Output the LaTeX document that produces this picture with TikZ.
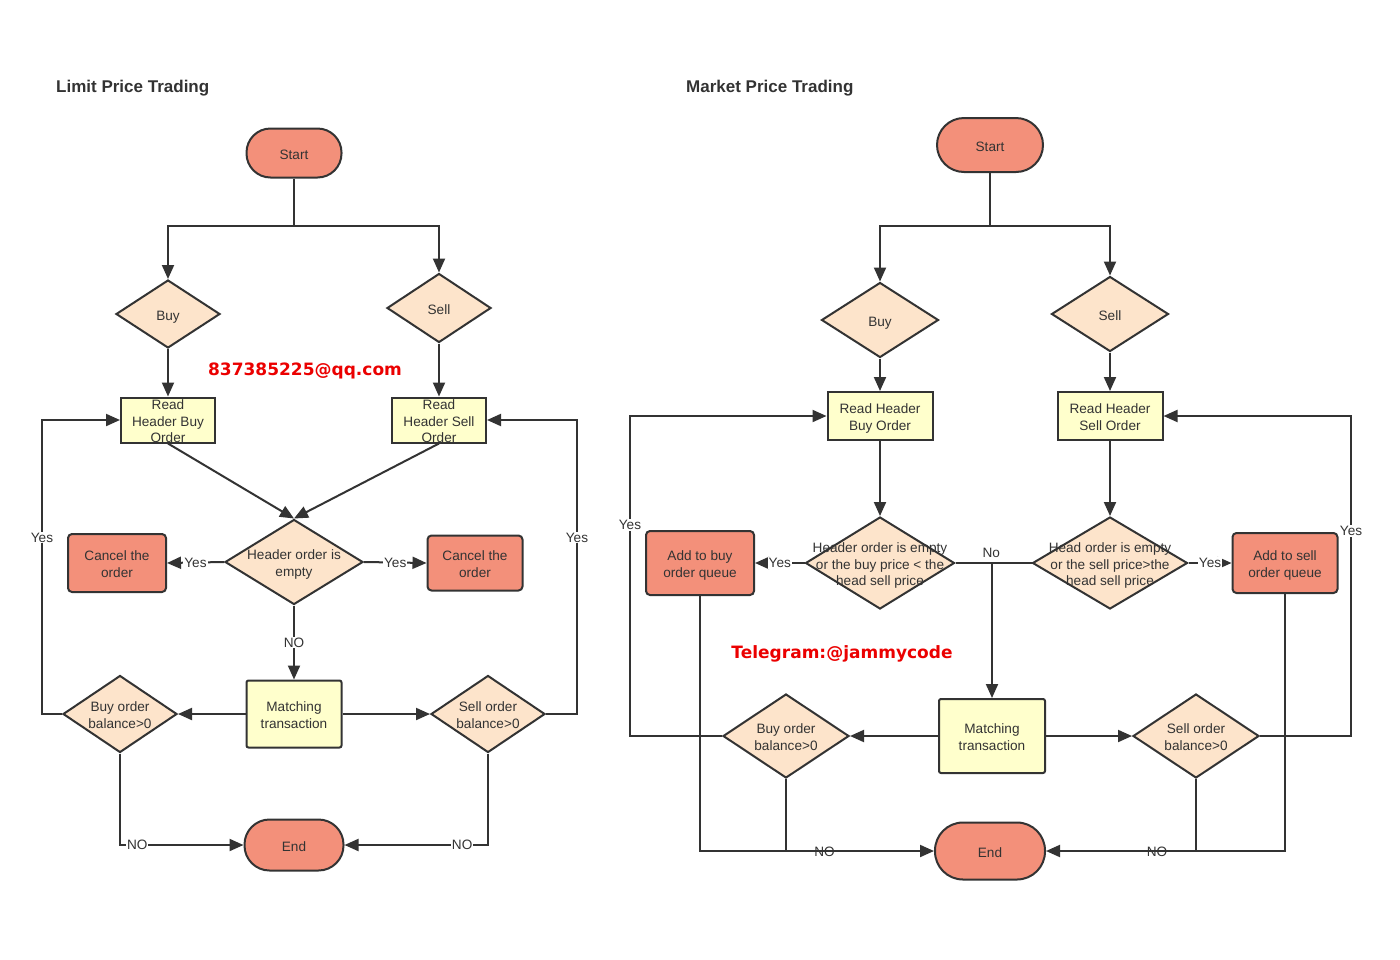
\documentclass[tikz,border=0pt]{standalone}
\usepackage{fontspec}
\setmainfont{Liberation Sans}
\newfontfamily\vfont{DejaVu Sans}
\usetikzlibrary{shapes.geometric,arrows.meta}
\definecolor{lc}{RGB}{51,51,51}
\definecolor{salmon}{RGB}{243,144,122}
\definecolor{peach}{RGB}{253,228,203}
\definecolor{yel}{RGB}{255,255,204}
\definecolor{wred}{RGB}{235,0,0}
\newcommand{\ctext}[1]{\smash{\makebox[0pt]{\raisebox{-6.5pt}{\begin{tabular}{@{}c@{}}#1\end{tabular}}}}}
\begin{document}
\begin{tikzpicture}[x=1pt,y=-1pt,
  every node/.style={font=\fontsize{13.6}{16.6}\selectfont, text=lc},
  base/.style={draw=lc, line width=2pt, inner sep=0pt},
  term/.style={base, rectangle, fill=salmon},
  proc/.style={base, rectangle, fill=yel, rounded corners=2pt},
  act/.style={base, rectangle, fill=salmon, rounded corners=4pt},
  dia/.style={base, diamond, fill=peach},
  line/.style={draw=lc, line width=2pt},
  arr/.style={line, -{Triangle[length=14pt,width=12pt]}},
  lbl/.style={fill=white, inner sep=1pt, font=\fontsize{13.6}{15}\selectfont},
  nlbl/.style={inner sep=1pt, font=\fontsize{13.6}{15}\selectfont},
  ttl/.style={anchor=west, inner sep=0pt, font=\fontsize{17}{20}\selectfont\bfseries},
  wm/.style={font=\vfont\bfseries\fontsize{17}{20}\selectfont, text=wred}]
\fill[white] (0,0) rectangle (1400,959);
\useasboundingbox (0,0) rectangle (1400,959);

% ---------------- Limit Price Trading ----------------
\node[ttl] (t1) at (56,88) {Limit Price Trading};
\node[term, rounded corners=24pt, minimum width=95pt, minimum height=49pt] (s1) at (294,153) {\ctext{Start}};
\node[dia, minimum width=104pt, minimum height=68pt] (buy1) at (168,314) {\ctext{Buy}};
\node[dia, minimum width=104pt, minimum height=69pt] (sell1) at (439,308) {\ctext{Sell}};
\node[wm] (w1) at (305,371) {837385225@qq.com};
\node[proc, rounded corners=0pt, minimum width=94pt, minimum height=45pt] (rb1) at (168,420) {\ctext{Read\\Header Buy\\Order}};
\node[proc, rounded corners=0pt, minimum width=94pt, minimum height=45pt] (rs1) at (439,420) {\ctext{Read\\Header Sell\\Order}};
\node[dia, minimum width=138pt, minimum height=85pt] (he1) at (294,562) {\ctext{Header order is\\empty}};
\node[act, minimum width=98pt, minimum height=58pt] (cl1) at (117,563) {\ctext{Cancel the\\order}};
\node[act, minimum width=95pt, minimum height=55pt] (cr1) at (475,563) {\ctext{Cancel the\\order}};
\node[proc, minimum width=95pt, minimum height=67pt] (mt1) at (294,714) {\ctext{Matching\\transaction}};
\node[dia, minimum width=114pt, minimum height=77pt] (bb1) at (120,714) {\ctext{Buy order\\balance>0}};
\node[dia, minimum width=114pt, minimum height=77pt] (sb1) at (488,714) {\ctext{Sell order\\balance>0}};
\node[term, rounded corners=25pt, minimum width=99pt, minimum height=51pt] (e1) at (294,845) {\ctext{End}};

\coordinate (j1) at (294,226);
\coordinate (yl1) at (42,714);
\coordinate (yr1) at (577,714);
\draw[line] (s1.south) -- (j1);
\draw[arr] (j1) -| (buy1.north);
\draw[arr] (j1) -| (sell1.north);
\draw[arr] (buy1.south) -- (rb1.north);
\draw[arr] (sell1.south) -- (rs1.north);
\draw[arr] (rb1.south) -- (he1.north);
\draw[arr] (rs1.south) -- (he1.north);
\draw[arr] (he1.west) -- node[lbl] {Yes} (cl1.east);
\draw[arr] (he1.east) -- node[lbl] {Yes} (cr1.west);
\draw[arr] (he1.south) -- node[lbl] {NO} (mt1.north);
\draw[arr] (mt1.west) -- (bb1.east);
\draw[arr] (mt1.east) -- (sb1.west);
\draw[arr] (bb1.west) -- (yl1) |- node[lbl, pos=0.3] {Yes} (rb1.west);
\draw[arr] (sb1.east) -- (yr1) |- node[lbl, pos=0.3] {Yes} (rs1.east);
\draw[arr] (bb1.south) |- node[lbl, pos=0.57] {NO} (e1.west);
\draw[arr] (sb1.south) |- node[lbl, pos=0.59] {NO} (e1.east);

% ---------------- Market Price Trading ----------------
\node[ttl] (t2) at (686,88) {Market Price Trading};
\node[term, rounded corners=27pt, minimum width=106pt, minimum height=54pt] (s2) at (990,145) {\ctext{Start}};
\node[dia, minimum width=117pt, minimum height=75pt] (buy2) at (880,320) {\ctext{Buy}};
\node[dia, minimum width=117pt, minimum height=75pt] (sell2) at (1110,314) {\ctext{Sell}};
\node[proc, rounded corners=0pt, minimum width=105pt, minimum height=48pt] (rb2) at (880,416) {\ctext{Read Header\\Buy Order}};
\node[proc, rounded corners=0pt, minimum width=105pt, minimum height=48pt] (rs2) at (1110,416) {\ctext{Read Header\\Sell Order}};
\node[dia, minimum width=149pt, minimum height=92pt] (hb2) at (880,563) {\ctext{Header order is empty\\or the buy price < the\\head sell price}};
\node[dia, minimum width=155pt, minimum height=92pt] (hs2) at (1110,563) {\ctext{Head order is empty\\or the sell price>the\\head sell price}};
\node[act, minimum width=108pt, minimum height=64pt] (ab2) at (700,563) {\ctext{Add to buy\\order queue}};
\node[act, minimum width=105pt, minimum height=60pt] (as2) at (1285,563) {\ctext{Add to sell\\order queue}};
\node[wm] (w2) at (842,654) {Telegram:@jammycode};
\node[proc, minimum width=106pt, minimum height=74pt] (mt2) at (992,736) {\ctext{Matching\\transaction}};
\node[dia, minimum width=126pt, minimum height=84pt] (bb2) at (786,736) {\ctext{Buy order\\balance>0}};
\node[dia, minimum width=126pt, minimum height=84pt] (sb2) at (1196,736) {\ctext{Sell order\\balance>0}};
\node[term, rounded corners=28pt, minimum width=110pt, minimum height=57pt] (e2) at (990,851) {\ctext{End}};

\coordinate (j2) at (990,226);
\coordinate (n2) at (992,563);
\coordinate (yl2) at (630,736);
\coordinate (yr2) at (1351,736);
\coordinate (jb2) at (bb2.south |- e2.west);
\coordinate (js2) at (sb2.south |- e2.east);
\draw[line] (s2.south) -- (j2);
\draw[arr] (j2) -| (buy2.north);
\draw[arr] (j2) -| (sell2.north);
\draw[arr] (buy2.south) -- (rb2.north);
\draw[arr] (sell2.south) -- (rs2.north);
\draw[arr] (rb2.south) -- (hb2.north);
\draw[arr] (rs2.south) -- (hs2.north);
\draw[arr] (hb2.west) -- node[lbl] {Yes} (ab2.east);
\draw[arr] (hs2.east) -- node[lbl] {Yes} (as2.west);
\draw[line] (hb2.east) -- node[nlbl, pos=0.47, above=3pt] {No} (hs2.west);
\draw[arr] (n2) -- (mt2.north);
\draw[arr] (mt2.west) -- (bb2.east);
\draw[arr] (mt2.east) -- (sb2.west);
\draw[arr] (bb2.west) -- (yl2) |- node[lbl, pos=0.33] {Yes} (rb2.west);
\draw[arr] (sb2.east) -- (yr2) |- node[lbl, pos=0.32] {Yes} (rs2.east);
\draw[line] (ab2.south) |- (jb2);
\draw[line] (as2.south) |- (js2);
\draw[arr] (bb2.south) |- node[nlbl, pos=0.63, yshift=-1pt] {NO} (e2.west);
\draw[arr] (sb2.south) |- node[nlbl, pos=0.63, yshift=-1pt] {NO} (e2.east);
\end{tikzpicture}
\end{document}
